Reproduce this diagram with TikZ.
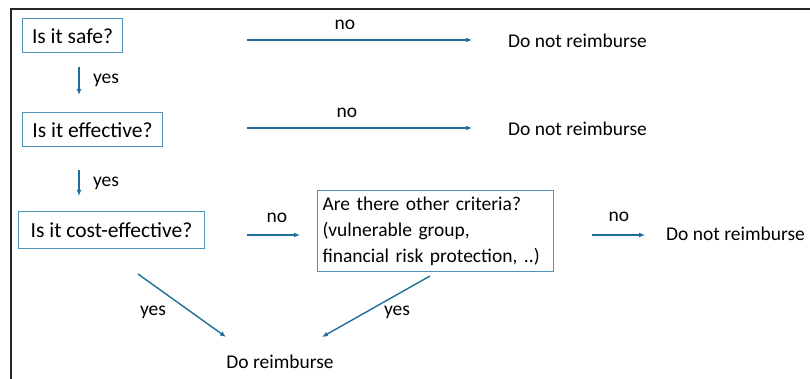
\documentclass[tikz,border=0pt]{standalone}
\usepackage{fontspec}
\setmainfont{Carlito}
\usetikzlibrary{arrows.meta}
\definecolor{arrowc}{HTML}{1F6E9C}
\definecolor{boxc}{HTML}{4F93BD}
\begin{document}
\begin{tikzpicture}[x=1pt,y=-1pt,
  every node/.style={font=\fontsize{19.5}{26}\selectfont\frenchspacing, inner sep=0pt},
  qbox/.style={draw=boxc, line width=1pt, inner xsep=5pt, inner ysep=6pt, anchor=west},
  big/.style={font=\fontsize{21.5}{26}\selectfont},
  arr/.style={draw=arrowc, line width=1.4pt, -{Latex[length=6pt,width=5pt]}},
  lbl/.style={text=black}]
\useasboundingbox (0,0) rectangle (810,379);
\draw[line width=2pt, black!85] (11,379) -- (11,9) -- (810,9);
% boxes
\node[qbox, big, minimum width=100pt, minimum height=34pt] (safe) at (22,36) {Is it safe?};
\node[qbox, big, minimum width=140pt, minimum height=34pt] (eff) at (22,130) {Is it effective?};
\node[qbox, big, minimum width=186pt, minimum height=36pt] (cost) at (18,230) {Is it cost-effective?};
\node[qbox, minimum width=236pt, minimum height=78pt, align=left, text width=226pt, inner xsep=5pt] (crit) at (317,231)
  {Are there other criteria?\\(vulnerable group,\\financial risk protection, ..)};
% outcomes
\node[anchor=west] (dn1) at (508,41) {Do not reimburse};
\node[anchor=west] (dn2) at (508,129) {Do not reimburse};
\node[anchor=west] (dn3) at (666,234) {Do not reimburse};
\node (dr) at (280,362) {Do reimburse};
% helper coordinates
\coordinate (a1s) at (247,40); \coordinate (a1e) at (472,40);
\coordinate (a2s) at (247,128); \coordinate (a2e) at (472,128);
\coordinate (a3s) at (247,235); \coordinate (a3e) at (300,235);
\coordinate (a4s) at (592,235); \coordinate (a4e) at (645,235);
\coordinate (v1s) at (79,67); \coordinate (v1e) at (79,95);
\coordinate (v2s) at (79,170); \coordinate (v2e) at (79,196);
\coordinate (d1s) at (138,274); \coordinate (d1e) at (226,337);
\coordinate (d2s) at (430,276); \coordinate (d2e) at (322,337);
% arrows
\draw[arr] (a1s) -- (a1e);
\draw[arr] (a2s) -- (a2e);
\draw[arr] (a3s) -- (a3e);
\draw[arr] (a4s) -- (a4e);
\draw[arr] (v1s) -- (v1e);
\draw[arr] (v2s) -- (v2e);
\draw[arr] (d1s) -- (d1e);
\draw[arr] (d2s) -- (d2e);
% labels
\node[lbl] (n1) at (345,25) {no};
\node[lbl] (n2) at (347,113) {no};
\node[lbl] (n3) at (277,218) {no};
\node[lbl] (n4) at (619,217) {no};
\node[lbl] (y1) at (106,80) {yes};
\node[lbl] (y2) at (106,183) {yes};
\node[lbl] (y3) at (153,312) {yes};
\node[lbl] (y4) at (397,312) {yes};
\end{tikzpicture}
\end{document}
